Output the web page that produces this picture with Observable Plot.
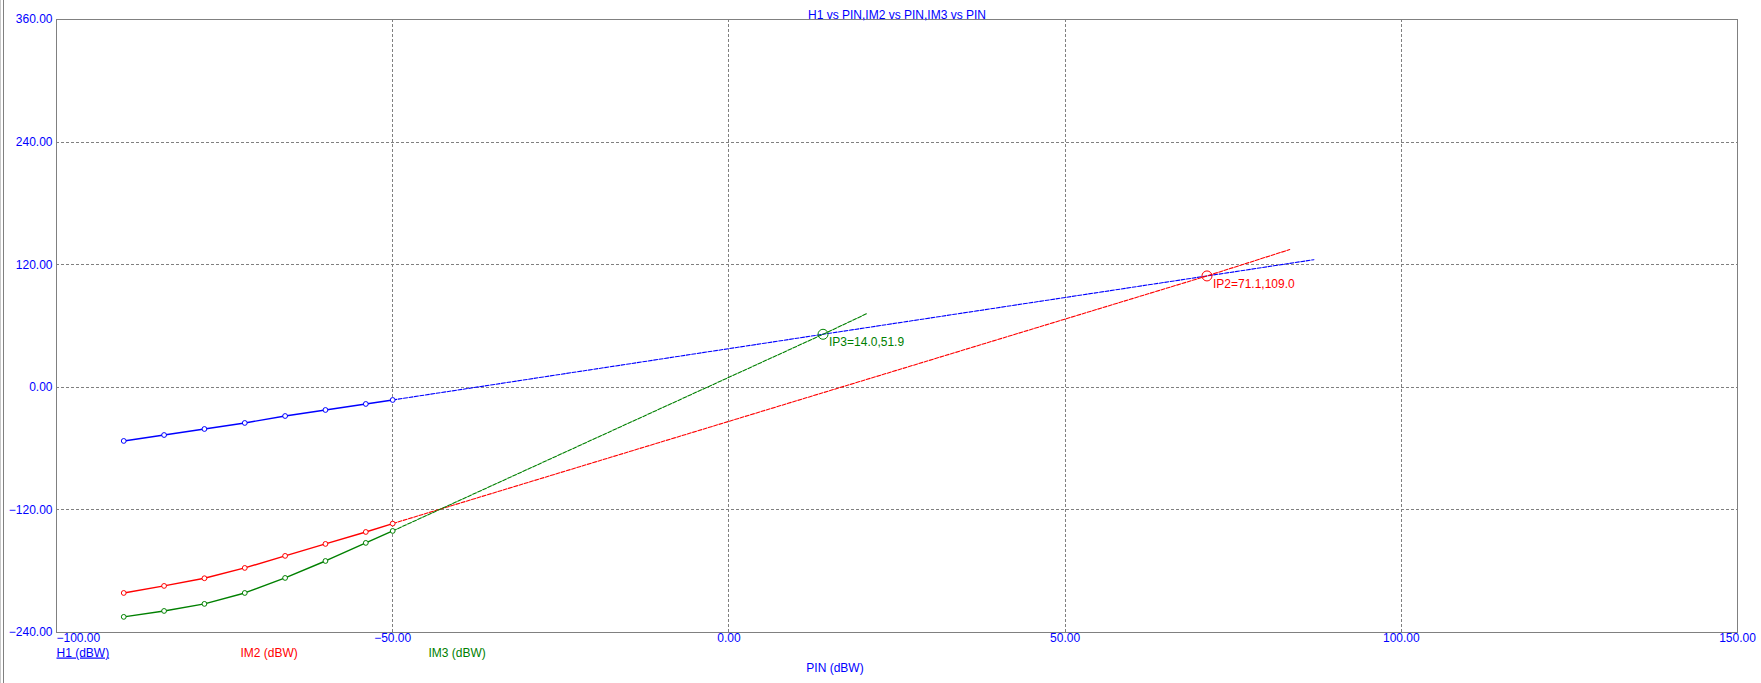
<!DOCTYPE html>
<html>
<head>
<meta charset="utf-8">
<script src="https://cdn.jsdelivr.net/npm/d3@7"></script>
<script src="https://cdn.jsdelivr.net/npm/@observablehq/plot@0.6"></script>
<style>
  html, body { margin: 0; padding: 0; background: #ffffff; }
  #wrap { position: relative; width: 1761px; height: 683px; overflow: hidden; }
  #edge { position: absolute; left: 0; top: 0; width: 2px; height: 683px;
          border-left: 1px solid #c8c8c8; border-right: 1px solid #808080; background: #fff; }
  svg text { font-family: "Liberation Sans", Arial, sans-serif; }
</style>
</head>
<body>
<div id="wrap"><div id="edge"></div></div>
<script>
// ---- data ----
const title = "H1 vs PIN,IM2 vs PIN,IM3 vs PIN";
const xLabel = "PIN (dBW)";
const seriesNames = ["H1 (dBW)", "IM2 (dBW)", "IM3 (dBW)"];
const seriesColors = ["#0000ff", "#ff0000", "#008000"];

const pin = [-90, -84, -78, -72, -66, -60, -54, -50];
const h1  = [-52.5, -46.7, -40.8, -34.9, -28.1, -22.2, -16.3, -12.4];
const im2 = [-201.3, -194.4, -186.9, -176.8, -165.0, -153.3, -141.6, -133.4];
const im3 = [-224.7, -218.9, -212.0, -201.3, -186.6, -170.0, -152.3, -140.6];

// extrapolated (dotted) lines
const h1ExtX  = [-50, 14.0, 71.1, 87.0];
const h1ExtY  = [-12.4, 51.9, 109.0, 124.9];
const im2ExtX = [-50, 71.1, 83.4];
const im2ExtY = [-133.4, 109.0, 134.8];
const im3ExtX = [-50, 14.0, 20.5];
const im3ExtY = [-140.6, 51.9, 72.1];

// intercept points
const ipNames = ["IP3", "IP2"];
const ipX = [14.0, 71.1];
const ipY = [51.9, 109.0];
const ipColors = ["#008000", "#ff0000"];

const xTicks = [-100, -50, 0, 50, 100, 150];
const yTicks = [-240, -120, 0, 120, 240, 360];
const xGrid = [-50, 0, 50, 100];
const yGrid = [-120, 0, 120, 240];

// ---- build tables ----
const measured = [];
[h1, im2, im3].forEach((ys, s) => ys.forEach((v, i) => measured.push({s, x: pin[i], y: v})));
const extr = [];
[[h1ExtX, h1ExtY], [im2ExtX, im2ExtY], [im3ExtX, im3ExtY]].forEach(([xs, ys], s) =>
  xs.forEach((xv, i) => extr.push({s, x: xv, y: ys[i]})));
const ips = ipNames.map((n, i) => ({name: n, x: ipX[i], y: ipY[i], c: ipColors[i],
  label: `${n}=${ipX[i].toFixed(1)},${ipY[i].toFixed(1)}`}));

const fmt = d3.format(".2f");
const blue = "#0000ff";
const grid = "#808080";

const chart = Plot.plot({
  width: 1761,
  height: 683,
  marginLeft: 56,
  marginRight: 24,
  marginTop: 19,
  marginBottom: 51,
  x: {domain: [-100, 150]},
  y: {domain: [-240, 360]},
  axis: null,
  style: {fontFamily: "'Liberation Sans', Arial, sans-serif", fontSize: "12px", background: "transparent", overflow: "visible"},
  marks: [
    Plot.ruleX(xGrid, {stroke: grid, strokeDasharray: "3,2", strokeWidth: 1, shapeRendering: "crispEdges"}),
    Plot.ruleY(yGrid, {stroke: grid, strokeDasharray: "3,2", strokeWidth: 1, shapeRendering: "crispEdges"}),
    Plot.frame({stroke: grid, strokeWidth: 1.2, shapeRendering: "crispEdges"}),
    // extrapolations
    ...[0, 1, 2].map(s => Plot.line(extr.filter(d => d.s === s), {
      x: "x", y: "y", stroke: seriesColors[s], strokeWidth: 1.1, strokeDasharray: "4,1.5"})),
    // measured lines
    ...[0, 1, 2].map(s => Plot.line(measured.filter(d => d.s === s), {
      x: "x", y: "y", stroke: seriesColors[s], strokeWidth: 1.4})),
    ...[0, 1, 2].map(s => Plot.dot(measured.filter(d => d.s === s), {
      x: "x", y: "y", r: 2.4, stroke: seriesColors[s], fill: "white", strokeWidth: 1})),
    // intercept markers and labels
    Plot.dot(ips, {x: "x", y: "y", r: 5, stroke: "c", fill: "none", strokeWidth: 1}),
    Plot.text(ips, {x: "x", y: "y", text: "label", fill: "c", textAnchor: "start", dx: 6, dy: 8, fontSize: 12}),
    // y tick labels
    Plot.text(yTicks, {y: d => d, text: d => fmt(d), frameAnchor: "left", textAnchor: "end", dx: -4, fill: blue, fontSize: 12}),
    // x tick labels
    Plot.text(xTicks.slice(0, 1), {x: d => d, text: d => fmt(d), frameAnchor: "bottom", textAnchor: "start", dy: 9, fill: blue, fontSize: 12}),
    Plot.text(xTicks.slice(1), {x: d => d, text: d => fmt(d), frameAnchor: "bottom", textAnchor: "middle", dy: 9, fill: blue, fontSize: 12}),
    // title
    Plot.text([title], {frameAnchor: "top", dy: -9, fill: blue, fontSize: 12}),
    // series legend
    Plot.text([seriesNames[0]], {frameAnchor: "bottom-left", textAnchor: "start", dy: 24, fill: seriesColors[0], fontSize: 12}),
    Plot.text([seriesNames[1]], {frameAnchor: "bottom-left", textAnchor: "start", dx: 184, dy: 24, fill: seriesColors[1], fontSize: 12}),
    Plot.text([seriesNames[2]], {frameAnchor: "bottom-left", textAnchor: "start", dx: 372, dy: 24, fill: seriesColors[2], fontSize: 12}),
    // x axis label
    Plot.text([xLabel], {frameAnchor: "bottom", dx: -62, dy: 39, fill: blue, fontSize: 12})
  ]
});

d3.select(chart).selectAll("text").filter(function() { return this.textContent === seriesNames[0]; })
  .attr("text-decoration", "underline");

const wrap = document.getElementById("wrap");
chart.style.position = "absolute";
chart.style.left = "0px";
chart.style.top = "0px";
wrap.insertBefore(chart, wrap.firstChild);
</script>
</body>
</html>
